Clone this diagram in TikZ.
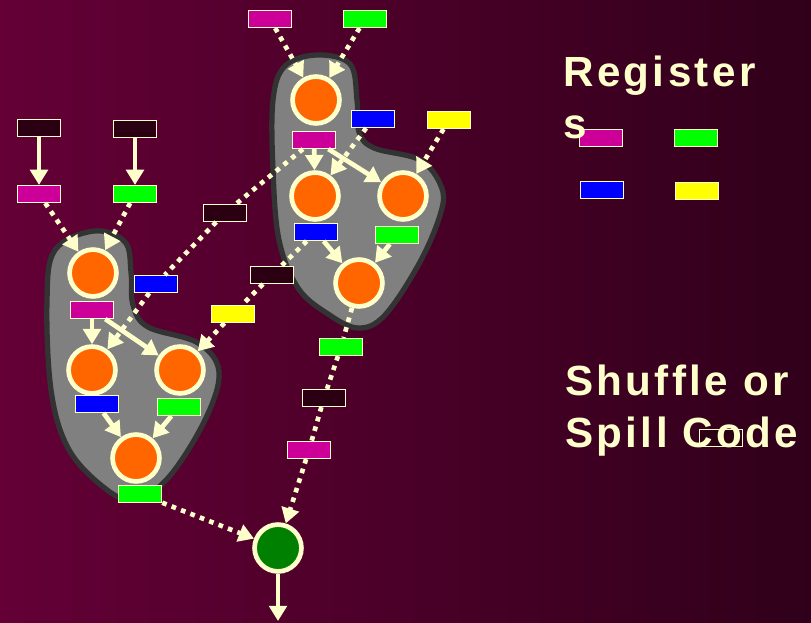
\documentclass[tikz,border=0pt]{standalone}
\usepackage{fontspec}
\setmainfont{Liberation Sans}
\newfontfamily\headfont{Liberation Sans}[LetterSpace=8]
\usetikzlibrary{arrows.meta}

\definecolor{cream}{HTML}{FFFFCC}
\definecolor{regmag}{HTML}{CC0099}
\definecolor{reggrn}{HTML}{00FF00}
\definecolor{regblu}{HTML}{0000FF}
\definecolor{regyel}{HTML}{FFFF00}
\definecolor{memory}{HTML}{2A0012}
\definecolor{opfill}{HTML}{FF6600}
\definecolor{sinkfill}{HTML}{008000}
\definecolor{bgleft}{HTML}{640036}
\definecolor{bgright}{HTML}{30001A}
\definecolor{regionfill}{HTML}{808080}
\definecolor{regionedge}{HTML}{333333}

\begin{document}
\begin{tikzpicture}[x=0.03cm, y=-0.03cm,
  reg/.style={draw=cream, line width=1pt, fill=#1, minimum width=37pt,
              minimum height=14.5pt, inner sep=0pt},
  op/.style={circle, draw=cream, line width=4pt, fill=#1, minimum size=40pt, inner sep=0pt},
  flow/.style={draw=cream, line width=4pt, -{Triangle[length=13pt,width=15pt]}},
  spill/.style={flow, dash pattern=on 4pt off 4.6pt},
  region/.style={fill=regionfill, draw=regionedge, line width=4.5pt},
  title/.style={text=cream, font=\headfont\bfseries\fontsize{36}{40}\selectfont,
                anchor=base west, inner sep=0pt}
]
  \useasboundingbox (0,0) rectangle (811,623);
  \shade[left color=bgleft, right color=bgright] (0,0) rectangle (811,623);

  % the two scheduled regions
  \draw[region] plot[smooth cycle, tension=0.6] coordinates {
    (94,231) (125,242) (131,272) (133,305) (148,327) (198,343) (219,372)
    (205,420) (168,478) (133,500) (102,486) (68,448) (51,390) (47,300) (55,250)};
  \draw[region] plot[smooth cycle, tension=0.6] coordinates {
    (317,55) (350,64) (357,100) (359,132) (374,148) (420,160) (441,186)
    (441,212) (420,262) (385,315) (358,328) (328,314) (298,288) (279,240)
    (273,170) (273,100) (285,66)};

  % left region
  \node[reg=memory] (lkA) at (39,128) {};
  \node[reg=memory] (lkB) at (135,129) {};
  \node[reg=regmag] (lmIn) at (39,194) {};
  \node[reg=reggrn] (lgIn) at (135,194) {};
  \node[op=opfill] (L1) at (93,273) {};
  \node[reg=regmag] (lmOut) at (92,310) {};
  \node[op=opfill] (L2) at (92,370) {};
  \node[op=opfill] (L3) at (180,370) {};
  \node[reg=regblu] (lbOut) at (97,404) {};
  \node[reg=reggrn] (lgOut) at (179,407) {};
  \node[op=opfill] (L4) at (136,458) {};
  \node[reg=reggrn] (lgEnd) at (140,494) {};
  \node[reg=regblu] (lbIn) at (156,284) {};
  \node[reg=memory] (lkC) at (225,213) {};
  \node[reg=regyel] (lyIn) at (233,314) {};
  \node[reg=memory] (lkD) at (272,275) {};

  % right region
  \node[reg=regmag] (rmIn) at (270,19) {};
  \node[reg=reggrn] (rgIn) at (365,19) {};
  \node[op=opfill] (R1) at (316,100) {};
  \node[reg=regmag] (rmOut) at (314,140) {};
  \node[reg=regblu] (rbIn) at (373,119) {};
  \node[reg=regyel] (ryIn) at (449,120) {};
  \node[op=opfill] (R2) at (315,196) {};
  \node[op=opfill] (R3) at (403,196) {};
  \node[reg=regblu] (rbOut) at (316,232) {};
  \node[reg=reggrn] (rgOut) at (397,235) {};
  \node[op=opfill] (R4) at (359,283) {};
  \node[reg=reggrn] (rgEnd) at (341,347) {};
  \node[reg=memory] (rkE) at (324,398) {};
  \node[reg=regmag] (rmEnd) at (309,450) {};

  % join
  \node[op=sinkfill] (sink) at (278,548) {};
  \coordinate (exit) at (278,621);

  % dependences
  \draw[flow] (lkA) -- (lmIn);
  \draw[flow] (lkB) -- (lgIn);
  \draw[flow] (lmOut) -- (L2);
  \draw[flow] (lmOut) -- (L3);
  \draw[flow] (lbOut) -- (L4);
  \draw[flow] (lgOut) -- (L4);
  \draw[flow] (rmOut) -- (R2);
  \draw[flow] (rmOut) -- (R3);
  \draw[flow] (rbOut) -- (R4);
  \draw[flow] (rgOut) -- (R4);
  \draw[flow] (sink) -- (exit);

  \draw[spill] (lmIn) -- (L1);
  \draw[spill] (lgIn) -- (L1);
  \draw[spill] (rmIn) -- (R1);
  \draw[spill] (rgIn) -- (R1);
  \draw[spill] (rbIn) -- (R2);
  \draw[spill] (ryIn) -- (R3);
  \draw[spill] (rmOut) -- (lkC) -- (lbIn) -- (L2);
  \draw[spill] (rbOut) -- (lkD) -- (lyIn) -- (L3);
  \draw[spill] (R4) -- (rgEnd) -- (rkE) -- (rmEnd) -- (sink);
  \draw[spill] (lgEnd) -- (sink);

  % legend
  \node[reg=regmag] (keyM) at (601,138) {};
  \node[reg=reggrn] (keyG) at (696,138) {};
  \node[reg=regblu] (keyB) at (602,190) {};
  \node[reg=regyel] (keyY) at (697,191) {};
  \node[reg=memory] (keyK) at (721,438) {};

  \node[title] (regA) at (563,87) {Register};
  \node[title] (regB) at (563,139) {s};
  \node[title] (shufA) at (565,395) {Shuffle or};
  \node[title] (shufB) at (565,447) {Spill Code};
\end{tikzpicture}
\end{document}
